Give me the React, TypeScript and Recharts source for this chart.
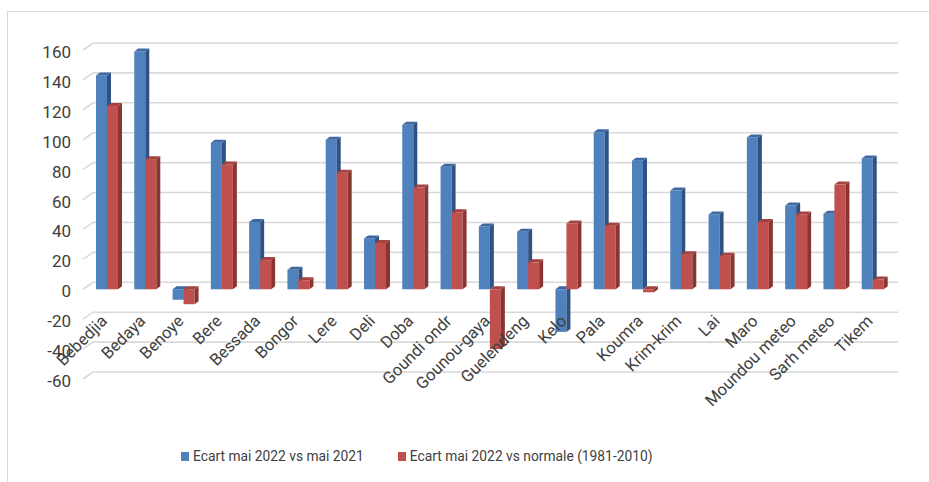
import { BarChart, Bar, XAxis, YAxis, CartesianGrid } from "recharts";

const stations = [
  "Bebedjia", "Bedaya", "Benoye", "Bere", "Bessada", "Bongor", "Lere", "Deli", "Doba",
  "Goundi ondr", "Gounou-gaya", "Guelendeng", "Kelo", "Pala", "Koumra", "Krim-krim",
  "Lai", "Maro", "Moundou meteo", "Sarh meteo", "Tikem",
];

// Ecart mai 2022 vs mai 2021
const vs2021 = [143, 159, -7, 98, 45, 13, 100, 34, 110, 82, 42, 38.5, -28.5, 105, 86, 66, 50, 101.5, 56, 50.5, 87.5];

// Ecart mai 2022 vs normale (1981-2010)
const vsNormale = [122.5, 87, -10, 83.5, 19.5, 6, 78, 31, 68, 51.5, -40, 18, 44, 42.5, -2, 23.5, 22.5, 45, 50, 70, 6.5];

const yTicks = [-60, -40, -20, 0, 20, 40, 60, 80, 100, 120, 140, 160];

const data = stations.map((name, i) => ({ name, a: vs2021[i], b: vsNormale[i] }));

const FONT = "Roboto, 'Noto Sans', sans-serif";
const TEXT = "#404040";
const GRID = "#D9D9D9";
const DX = 4;
const DY = 3;

// depth of the back wall relative to the front plane
const WALL_DX = 5;
const WALL_DY = 7;

const BLUE = { front: "#4F81BD", side: "#2E5283", top: "#3E68A2" };
const RED = { front: "#C0504D", side: "#8A3532", top: "#A5423F" };

function Bar3D(colors: { front: string; side: string; top: string }) {
  // eslint-disable-next-line @typescript-eslint/no-explicit-any
  return (props: any) => {
    const { x, y, width, height } = props;
    if (width == null || height == null) return null;
    const top = Math.min(y, y + height);
    const h = Math.abs(height);
    const r = x + width;
    return (
      <g>
        <rect x={x} y={top} width={width} height={h} fill={colors.front} />
        <polygon
          points={`${r},${top} ${r + DX},${top - DY} ${r + DX},${top + h - DY} ${r},${top + h}`}
          fill={colors.side}
        />
        <polygon
          points={`${x},${top} ${x + DX},${top - DY} ${r + DX},${top - DY} ${r},${top}`}
          fill={colors.top}
        />
      </g>
    );
  };
}

// eslint-disable-next-line @typescript-eslint/no-explicit-any
function GridLine(props: any) {
  const { x1, x2, y1, key } = props;
  const d = `M${x1 - 5},${y1} L${x1 + WALL_DX},${y1 - WALL_DY} L${x2 + WALL_DX + 1},${y1 - WALL_DY}`;
  return <path key={key} d={d} stroke={GRID} strokeWidth={1.6} fill="none" />;
}

// eslint-disable-next-line @typescript-eslint/no-explicit-any
function YTick(props: any) {
  const { x, y, payload } = props;
  return (
    <text x={x - 1} y={y + 2} textAnchor="end" dominantBaseline="central" fontSize={17} fill={TEXT} fontFamily={FONT}>
      {payload.value}
    </text>
  );
}

// eslint-disable-next-line @typescript-eslint/no-explicit-any
function XTick(props: any) {
  const { x, payload } = props;
  return (
    <text
      transform={`translate(${x + 1},322) rotate(-45)`}
      textAnchor="end"
      fontSize={16.5}
      fill={TEXT}
      fontFamily={FONT}
    >
      {payload.value}
    </text>
  );
}

function LegendItem({ color, label }: { color: string; label: string }) {
  return (
    <span style={{ display: "inline-flex", alignItems: "center" }}>
      <span style={{ width: 8, height: 9, background: color, marginRight: 4, display: "inline-block" }} />
      <span>{label}</span>
    </span>
  );
}

export default function App() {
  return (
    <div style={{ position: "absolute", left: 0, top: 0, width: 929, height: 482, background: "#fff" }}>
      <div
        style={{
          position: "absolute",
          left: 7,
          top: 11,
          right: 0,
          bottom: 0,
          borderTop: `1.5px solid ${GRID}`,
          borderLeft: `1.5px solid ${GRID}`,
        }}
      />
      <div style={{ position: "absolute", left: 0, top: 0 }}>
        <BarChart
          width={929}
          height={482}
          data={data}
          margin={{ top: 50, right: 37, bottom: 73, left: 8 }}
          barGap={0}
          barSize={11}
        >
          <CartesianGrid vertical={false} horizontal={GridLine} />
          <XAxis dataKey="name" tick={XTick} tickLine={false} axisLine={false} interval={0} height={30} />
          <YAxis
            domain={[-60, 160]}
            ticks={yTicks}
            tick={YTick}
            tickLine={false}
            axisLine={false}
            width={80}
            tickMargin={10}
          />
          <Bar dataKey="a" shape={Bar3D(BLUE)} isAnimationActive={false} />
          <Bar dataKey="b" shape={Bar3D(RED)} isAnimationActive={false} />
        </BarChart>
      </div>
      <div
        style={{
          position: "absolute",
          left: 181,
          top: 447,
          fontFamily: FONT,
          fontSize: 13.8,
          color: TEXT,
          display: "flex",
          gap: 34,
          lineHeight: "18px",
        }}
      >
        <LegendItem color={BLUE.front} label="Ecart mai 2022 vs mai 2021" />
        <LegendItem color={RED.front} label="Ecart mai 2022 vs normale (1981-2010)" />
      </div>
    </div>
  );
}
